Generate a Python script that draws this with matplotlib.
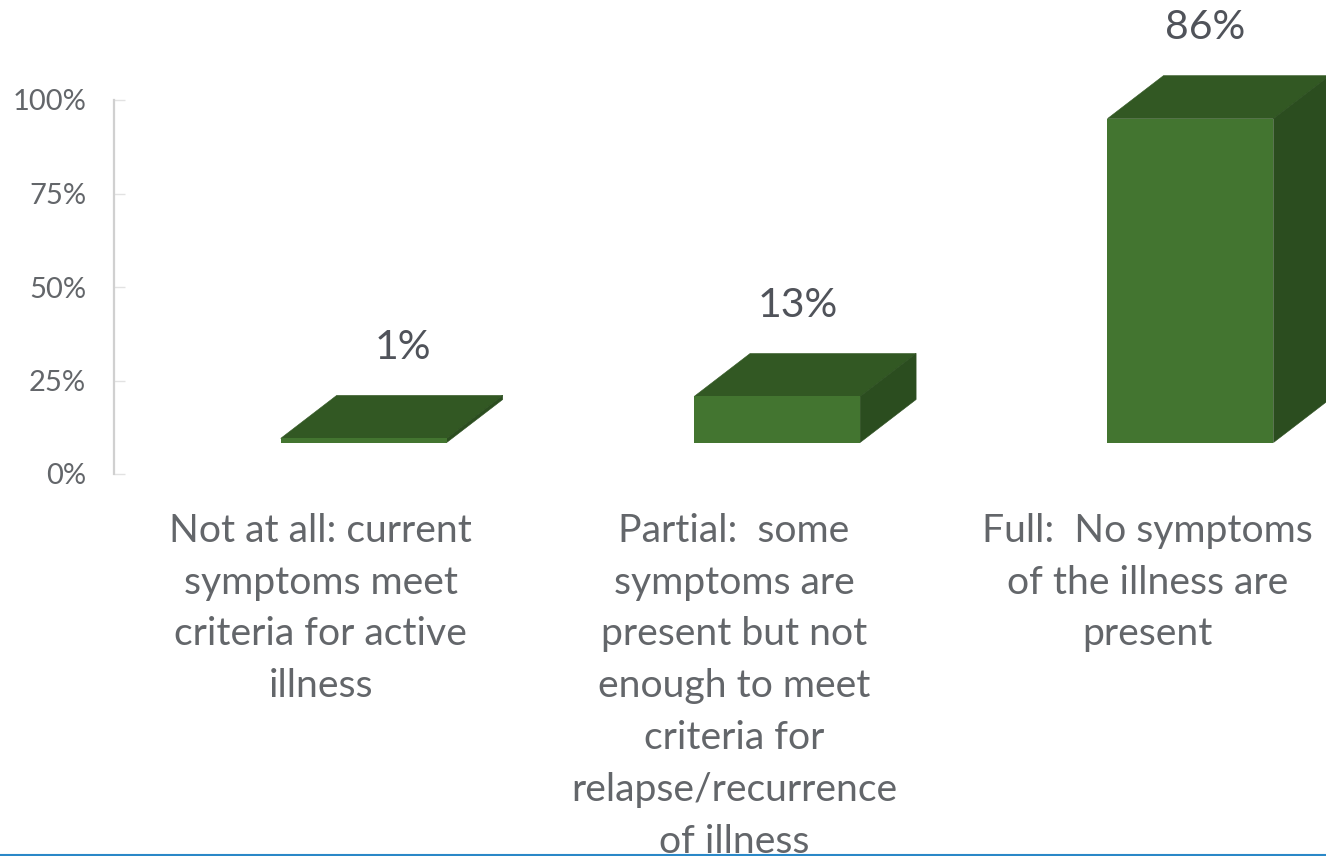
import matplotlib
matplotlib.use('Agg')
import matplotlib.pyplot as plt
from matplotlib.lines import Line2D
from matplotlib.patches import Polygon

W, H = 1326, 856

# values printed above the bars and the bar heights
categories = ['Not at all: current\nsymptoms meet\ncriteria for active\nillness',
              'Partial:  some\nsymptoms are\npresent but not\nenough to meet\ncriteria for\nrelapse/recurrence\nof illness',
              'Full:  No symptoms\nof the illness are\npresent']
labels = [1, 13, 86]
heights = [1.1, 12.3, 86.6]
y_ticks = [0, 25, 50, 75, 100]

FRONT = '#437530'
TOP = '#325823'
SIDE = '#2B4D1F'
GREY = '#63666A'

plt.rcParams['font.family'] = ['Lato', 'DejaVu Sans']

fig = plt.figure(figsize=(W / 100, H / 100), dpi=100)
ax = fig.add_axes([114 / W, 1 - 474 / H, (W - 114) / W, 374 / H])

slot = 413.4  # px per category
px_y = 374 / 100  # px per percent
ax.set_xlim(-0.5, -0.5 + (W - 114) / slot)
ax.set_ylim(0, 100)

# fake 3d: front face is shifted off the axis, depth goes up and right
shift_x, base = 43 / slot, 31.5 / px_y
depth_x, depth_y = 56 / slot, 43 / px_y
bar_w = 166 / slot

xs = [i + shift_x for i in range(len(categories))]
ax.bar(xs, heights, bottom=base, width=bar_w, color=FRONT, clip_on=False, zorder=4)

label_dx = [39, 21, 15]
for x, h, lab, dx in zip(xs, heights, labels, label_dx):
    l, r, t = x - bar_w / 2, x + bar_w / 2, base + h
    ax.add_patch(Polygon([(l, t), (r, t), (r + depth_x, t + depth_y), (l + depth_x, t + depth_y)],
                         color=TOP, lw=0.4, clip_on=False, zorder=3))
    ax.add_patch(Polygon([(r, base), (r, t), (r + depth_x, t + depth_y), (r + depth_x, base + depth_y)],
                         color=SIDE, lw=0.4, clip_on=False, zorder=3))
    ax.text(x + dx / slot, t + 91 / px_y, f'{lab}%', ha='center', va='center',
            fontsize=29.5, color='#50535A', clip_on=False)

for s in ['top', 'right', 'bottom']:
    ax.spines[s].set_visible(False)
ax.spines['left'].set_color('#D0D0D0')
ax.spines['left'].set_linewidth(1.6)

ax.set_yticks(y_ticks)
ax.set_yticklabels([f'{t}%' for t in y_ticks], fontsize=21, color=GREY)
ax.tick_params(axis='y', direction='in', length=8, width=1, color='#E2E2E2', pad=20)

ax.set_xticks(range(len(categories)))
ax.set_xticklabels(categories, fontsize=28.2, color=GREY, linespacing=1.545)
ax.tick_params(axis='x', length=0, pad=28)

fig.add_artist(Line2D([0, 1], [1.2 / H, 1.2 / H], color='#2A88C8', lw=1.5, zorder=10))

fig.savefig('out.png', dpi=100)
